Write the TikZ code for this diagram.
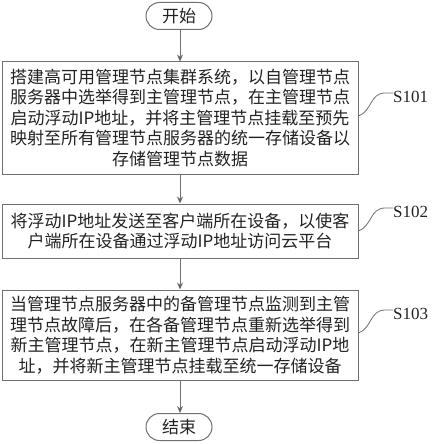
\documentclass[tikz,border=0pt]{standalone}
\usepackage{fontspec}
\setmainfont{Liberation Serif}
\newfontfamily\cjk{Noto Sans CJK SC}
\usetikzlibrary{arrows.meta}
\definecolor{linegray}{HTML}{707070}
\definecolor{txt}{HTML}{222222}
\begin{document}
\begin{tikzpicture}[x=1pt,y=-1pt,
  stepbox/.style={draw=linegray,line width=1pt,rectangle,minimum width=356pt,inner sep=0pt,align=center,text=txt,font=\cjk\fontsize{17}{20.5}\selectfont},
  term/.style={draw=linegray,line width=1pt,rounded corners=13.5pt,minimum width=66pt,minimum height=27pt,inner sep=0pt,text=txt,font=\cjk\fontsize{17}{20}\selectfont},
  arr/.style={draw=linegray,line width=0.9pt,-{Stealth[length=7pt,width=6pt,fill=black]}},
  lead/.style={draw=linegray,line width=0.8pt},
  lab/.style={text=txt,font=\fontsize{17}{20}\selectfont,inner sep=0pt}]
\useasboundingbox (0,0) rectangle (433,444);
\node[term] (start) at (179,16) {开始};
\node[stepbox,minimum height=112pt] (b1) at (180,118) {搭建高可用管理节点集群系统，以自管理节点\\服务器中选举得到主管理节点，在主管理节点\\启动浮动IP地址，并将主管理节点挂载至预先\\映射至所有管理节点服务器的统一存储设备以\\存储管理节点数据};
\node[stepbox,minimum height=54pt] (b2) at (180,231) {将浮动IP地址发送至客户端所在设备，以使客\\户端所在设备通过浮动IP地址访问云平台};
\node[stepbox,minimum height=90pt] (b3) at (180,335) {当管理节点服务器中的备管理节点监测到主管\\理节点故障后，在各备管理节点重新选举得到\\新主管理节点，在新主管理节点启动浮动IP地\\址，并将新主管理节点挂载至统一存储设备};
\node[term] (end) at (179,427) {结束};
\draw[arr] (start.south -| b1.north) -- (b1.north);
\draw[arr] (b1.south) -- (b2.north);
\draw[arr] (b2.south) -- (b3.north);
\draw[arr] (b3.south) -- (b3.south |- end.north);
\node[lab,anchor=west] (l1) at (393,97) {S101};
\node[lab,anchor=west] (l2) at (393,212) {S102};
\node[lab,anchor=west] (l3) at (393,314) {S103};
\coordinate (c1) at (b1.east |- 0,116);
\coordinate (c2) at (b2.east |- 0,231);
\coordinate (c3) at (b3.east |- 0,333);
\draw[lead] (c1) .. controls (372,111) and (370,93) .. (385,93) -- (l1.west |- 0,93);
\draw[lead] (c2) .. controls (372,226) and (370,208) .. (385,208) -- (l2.west |- 0,208);
\draw[lead] (c3) .. controls (372,328) and (370,310) .. (385,310) -- (l3.west |- 0,310);
\end{tikzpicture}
\end{document}
